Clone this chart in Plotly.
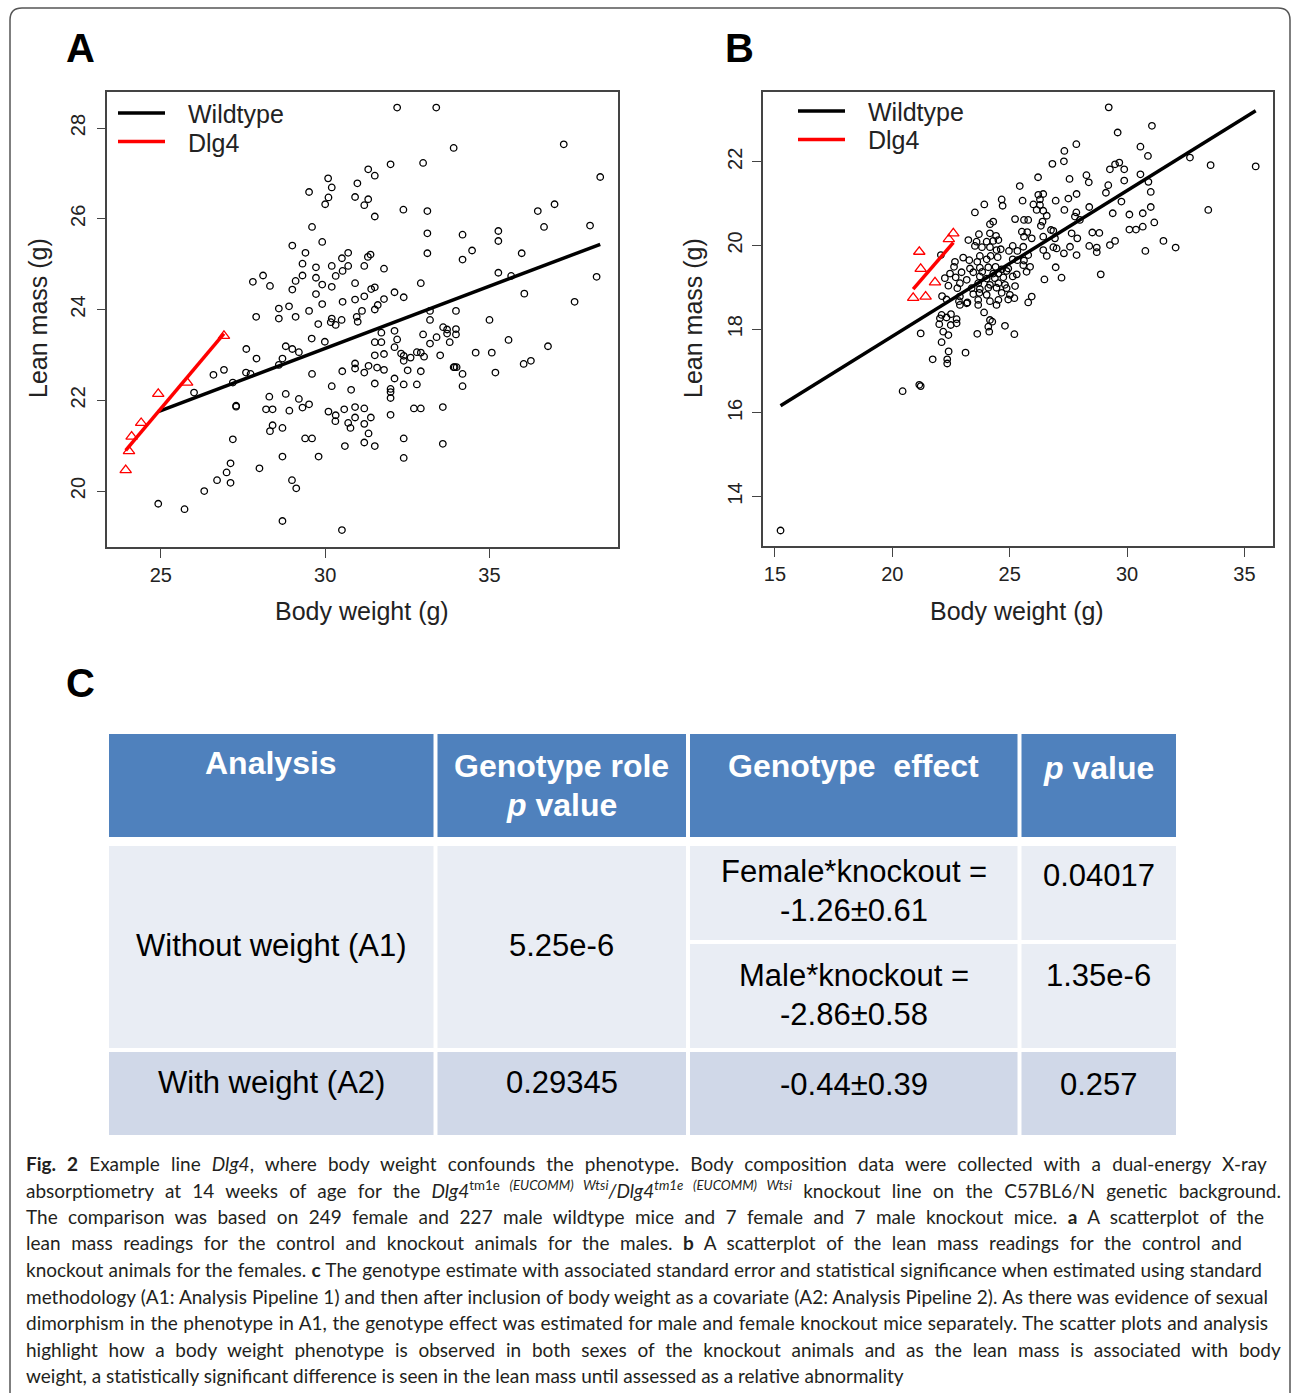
import json
import plotly.graph_objects as go

W, H = 1292, 1393

# ---------------- Panel A: males, lean mass vs body weight ----------------
a_wt_x = [30.09, 30.20, 29.51, 30.10, 30.00, 30.98, 30.91, 29.60, 29.00, 29.91, 29.40, 30.70, 30.51, 29.31,
          29.72, 30.20, 30.70, 30.53, 30.32, 27.80, 28.11, 28.32, 29.00, 29.10, 29.31, 29.72, 29.91, 30.20,
          30.91, 29.72, 29.91, 30.53, 30.91, 28.59, 28.90, 27.90, 28.59, 29.10, 29.51, 30.20, 30.50, 30.96,
          32.19, 33.38, 33.91, 37.26, 31.99, 32.98, 31.31, 31.51, 31.31, 31.19, 31.51, 32.38, 33.11, 36.47,
          36.98, 38.37, 33.11, 34.18, 35.27, 35.27, 36.66, 38.06, 33.11, 34.18, 34.47, 35.98, 31.38, 31.30,
          31.19, 31.79, 35.27, 35.66, 32.91, 38.26, 36.06, 37.59, 31.51, 31.40, 31.19, 31.79, 32.11, 32.39,
          31.60, 31.51, 31.12, 33.19, 33.98, 35.00,
          29.79, 30.17, 30.32, 30.99, 29.59, 29.99, 28.80, 29.00, 29.20, 27.60, 27.91, 28.70, 28.59, 26.92,
          26.60, 27.59, 27.73, 27.19, 26.01, 29.60, 30.52, 30.91, 30.91, 30.20, 30.79, 28.30, 28.80, 29.20,
          29.51, 29.31, 28.20, 28.40, 28.91, 27.29, 27.29, 30.10, 30.32, 30.31, 30.58, 30.91, 30.91, 30.70,
          30.77, 28.40, 28.32, 28.70, 27.19, 29.39, 29.60, 30.60, 28.70, 29.80, 27.12, 27.00, 26.71, 27.12,
          28.00, 28.99, 29.12, 26.32, 24.92, 25.72, 28.70, 30.51,
          33.19, 33.59, 33.71, 33.98, 33.71, 33.98, 32.98, 33.39, 33.19, 33.79, 35.58, 36.78, 31.71, 32.11,
          32.19, 31.51, 31.71, 32.11, 32.31, 32.39, 32.39, 32.60, 32.79, 32.91, 33.01, 33.50, 34.58, 35.07,
          31.51, 31.79, 31.32, 31.19, 31.58, 31.79, 32.51, 32.91, 33.91, 33.94, 34.00, 34.18, 35.18, 36.04,
          36.26, 32.11, 31.51, 32.39, 32.79, 34.18, 31.99, 31.99, 31.99, 31.19, 32.70, 32.91, 33.58, 31.39,
          31.19, 31.99, 31.32, 31.19, 31.51, 32.39, 33.58, 32.39]
a_wt_y = [26.89, 26.69, 26.59, 26.47, 26.32, 26.78, 26.48, 25.82, 25.41, 25.49, 25.25, 25.25, 25.13, 25.01,
          24.93, 24.96, 24.96, 24.85, 24.74, 24.61, 24.75, 24.52, 24.44, 24.63, 24.75, 24.70, 24.55, 24.50,
          24.58, 24.34, 24.12, 24.17, 24.22, 24.02, 24.07, 23.84, 23.80, 23.84, 23.97, 23.80, 23.77, 23.84,
          28.45, 28.45, 27.56, 27.64, 27.20, 27.23, 27.09, 26.95, 26.43, 26.30, 26.05, 26.20, 26.17, 26.17,
          26.32, 26.92, 25.68, 25.65, 25.73, 25.51, 25.82, 25.85, 25.24, 25.10, 25.30, 25.24, 25.21, 25.16,
          24.96, 24.90, 24.81, 24.74, 24.58, 24.72, 24.35, 24.17, 24.49, 24.45, 24.29, 24.23, 24.38, 24.27,
          24.10, 24.00, 23.97, 23.97, 23.97, 23.77,
          23.68, 23.72, 23.66, 23.73, 23.36, 23.29, 23.19, 23.13, 23.06, 23.13, 22.92, 22.92, 22.78, 22.67,
          22.56, 22.61, 22.58, 22.39, 22.17, 22.58, 22.64, 22.81, 22.70, 22.31, 22.23, 22.08, 22.14, 22.03,
          21.91, 21.84, 21.80, 21.80, 21.77, 21.86, 21.88, 21.75, 21.67, 21.54, 21.80, 21.85, 21.62, 21.50,
          21.39, 21.45, 21.32, 21.39, 21.14, 21.16, 21.16, 20.99, 20.76, 20.76, 20.61, 20.41, 20.24, 20.18,
          20.50, 20.24, 20.06, 20.00, 19.72, 19.60, 19.34, 19.14,
          23.77, 23.61, 23.56, 23.57, 23.47, 23.45, 23.45, 23.39, 23.25, 23.28, 23.33, 23.19, 23.49, 23.53,
          23.34, 23.28, 23.28, 23.17, 23.03, 22.98, 22.87, 22.94, 23.06, 23.05, 22.96, 22.99, 23.05, 23.05,
          22.99, 23.02, 22.76, 22.61, 22.72, 22.67, 22.66, 22.64, 22.73, 22.73, 22.73, 22.58, 22.61, 22.80,
          22.87, 22.48, 22.37, 22.35, 22.35, 22.31, 22.25, 22.18, 22.05, 21.82, 21.82, 21.82, 21.85, 21.62,
          21.48, 21.68, 21.27, 21.07, 20.99, 21.16, 21.04, 20.73]
a_ko_x = [23.93, 24.03, 24.11, 24.40, 24.92, 25.80, 26.92]
a_ko_y = [20.46, 20.88, 21.20, 21.50, 22.14, 22.39, 23.42]
a_fit_intercept = [14.92, 0.33]      # [Wildtype, Dlg4]
a_fit_slope = [0.2741, 0.8595]

# ---------------- Panel B: females ----------------
b_wt_x = [26.21, 25.43, 26.43, 26.22, 24.66, 25.55, 26.29, 26.96, 23.92, 24.70, 26.01, 26.29, 23.52, 26.15,
          26.43, 26.58, 25.23, 25.61, 25.79, 26.40, 24.30, 24.16, 26.33, 26.76, 23.69, 24.16, 24.42, 25.52,
          25.75, 26.86, 25.61, 25.94, 26.43, 26.93, 23.24, 23.59, 24.02, 24.30, 24.52, 23.52, 23.82, 24.16,
          25.13, 25.58, 26.86, 24.44, 24.62, 24.97, 25.33, 26.43, 27.00, 23.73, 23.02, 24.19, 24.49, 25.79,
          26.58, 22.07, 22.67, 23.28, 23.62, 24.02, 25.13, 25.33, 25.61, 22.63, 23.31, 23.73, 24.09, 24.40,
          24.66, 24.94, 25.58, 25.87, 26.96, 22.46, 22.95, 23.45, 23.83, 24.30, 24.52, 24.87, 25.30, 25.72,
          22.24, 22.70, 23.17, 23.73, 24.02, 24.37, 24.73, 25.13, 26.48, 22.39, 22.88, 23.66, 24.16, 24.52,
          24.80, 22.77, 23.38, 23.73, 24.09, 24.44, 24.87, 25.23, 22.12, 22.88, 23.45, 23.71, 24.02, 24.66,
          25.01, 25.20, 25.94, 22.31, 22.84, 23.20, 23.66, 24.16, 24.52, 24.94, 25.79, 22.88, 23.17, 23.66,
          24.44, 22.10, 22.50, 23.91, 22.03, 22.31, 22.74, 24.16, 24.26, 22.00, 22.49, 22.74, 24.09, 24.80,
          21.21, 22.17, 22.39, 23.62, 24.13, 25.20, 22.10,
          29.22, 31.06, 29.60, 27.84, 27.33, 26.82, 27.31, 30.57, 30.89, 32.68, 33.56, 35.48, 29.27, 29.49,
          29.67, 29.88, 30.57, 28.27, 28.37, 27.55, 27.85, 27.50, 29.10, 29.20, 29.76, 31.01, 30.91, 29.88,
          28.39, 27.84, 27.33, 27.78, 27.99, 29.39, 30.10, 30.67, 31.01, 33.46, 31.16, 30.10, 30.38, 30.67,
          28.52, 28.82, 31.55, 32.07, 30.78, 29.49, 29.27, 28.39, 28.71, 28.71, 27.85, 27.57, 28.88, 27.21,
          27.64, 27.88, 27.31,
          22.40, 22.34, 22.34, 21.72, 23.12, 21.21, 21.15, 20.44, 15.24]
b_wt_y = [21.63, 21.42, 21.23, 21.21, 21.10, 21.07, 21.10, 21.07, 20.98, 20.95, 20.98, 20.97, 20.79, 20.85,
          20.83, 20.71, 20.63, 20.61, 20.61, 20.57, 20.57, 20.51, 20.47, 20.37, 20.27, 20.29, 20.23, 20.33,
          20.32, 20.35, 20.21, 20.17, 20.21, 20.17, 20.13, 20.09, 20.09, 20.11, 20.13, 19.99, 19.96, 19.96,
          19.99, 19.97, 19.96, 19.89, 19.91, 19.87, 19.87, 19.89, 19.93, 19.75, 19.71, 19.75, 19.72, 19.77,
          19.75, 19.77, 19.61, 19.65, 19.61, 19.67, 19.67, 19.65, 19.64, 19.49, 19.45, 19.47, 19.48, 19.49,
          19.43, 19.45, 19.53, 19.49, 19.48, 19.33, 19.36, 19.36, 19.37, 19.33, 19.33, 19.39, 19.31, 19.37,
          19.22, 19.24, 19.18, 19.26, 19.21, 19.22, 19.24, 19.26, 19.19, 19.04, 19.10, 19.10, 19.06, 19.10,
          19.06, 18.98, 18.98, 18.96, 18.99, 18.99, 18.98, 19.03, 18.79, 18.78, 18.84, 18.87, 18.82, 18.87,
          18.82, 18.74, 18.78, 18.71, 18.67, 18.64, 18.70, 18.67, 18.70, 18.71, 18.64, 18.58, 18.62, 18.58,
          18.58, 18.34, 18.36, 18.40, 18.26, 18.28, 18.24, 18.22, 18.18, 18.12, 18.10, 18.14, 18.06, 18.08,
          17.90, 17.94, 17.86, 17.89, 17.94, 17.88, 17.69,
          23.30, 22.86, 22.70, 22.42, 22.26, 21.95, 22.01, 22.36, 22.14, 22.10, 21.92, 21.89, 21.82, 21.94,
          21.98, 21.82, 21.70, 21.68, 21.51, 21.59, 21.23, 21.12, 21.26, 21.44, 21.05, 21.28, 21.52, 21.55,
          20.92, 20.79, 20.85, 20.69, 20.61, 20.77, 20.74, 20.77, 20.92, 20.85, 20.55, 20.38, 20.38, 20.45,
          20.31, 20.30, 20.11, 19.95, 19.87, 20.11, 20.01, 19.99, 19.95, 19.84, 19.77, 19.97, 19.31, 19.23,
          20.29, 20.17, 19.81,
          17.47, 17.28, 17.18, 17.28, 17.44, 16.64, 16.67, 16.52, 13.19]
b_ko_x = [22.60, 22.41, 21.15, 21.21, 21.82, 20.89, 21.42]
b_ko_y = [20.29, 20.15, 19.85, 19.44, 19.12, 18.75, 18.78]
b_fit_intercept = [10.87, 5.40]      # [Wildtype, Dlg4]
b_fit_slope = [0.348, 0.649]

a_xticks = [25, 30, 35]
a_yticks = [20, 22, 24, 26, 28]
b_xticks = [15, 20, 25, 30, 35]
b_yticks = [14, 16, 18, 20, 22]
group_names = ["Wildtype", "Dlg4"]
group_colors = ["black", "#ff0000"]

# ---------------- Table C ----------------
tbl_header = ["Analysis", "Genotype role", "Genotype\u00a0 effect", "<i>p</i> value"]
tbl_header2 = ["", "<i>p</i> value", "", ""]
tbl_analysis = ["Without weight (A1)", "With weight (A2)"]
tbl_role_p = ["5.25e-6", "0.29345"]
tbl_effect = [["Female*knockout =", "-1.26±0.61"], ["Male*knockout =", "-2.86±0.58"], ["-0.44±0.39"]]
tbl_effect_p = ["0.04017", "1.35e-6", "0.257"]

caption_lines = [
    "<b>Fig. 2</b> Example line <i>Dlg4</i>, where body weight confounds the phenotype. Body composition data were collected with a dual-energy X-ray",
    "absorptiometry at 14 weeks of age for the <i>Dlg4</i><sup>tm1e <i>(EUCOMM) Wtsi</i></sup><i>/Dlg4<sup>tm1e (EUCOMM) Wtsi</sup></i> knockout line on the C57BL6/N genetic background.",
    "The comparison was based on 249 female and 227 male wildtype mice and 7 female and 7 male knockout mice. <b>a</b> A scatterplot of the",
    "lean mass readings for the control and knockout animals for the males. <b>b</b> A scatterplot of the lean mass readings for the control and",
    "knockout animals for the females. <b>c</b> The genotype estimate with associated standard error and statistical significance when estimated using standard",
    "methodology (A1: Analysis Pipeline 1) and then after inclusion of body weight as a covariate (A2: Analysis Pipeline 2). As there was evidence of sexual",
    "dimorphism in the phenotype in A1, the genotype effect was estimated for male and female knockout mice separately. The scatter plots and analysis",
    "highlight how a body weight phenotype is observed in both sexes of the knockout animals and as the lean mass is associated with body",
    "weight, a statistically significant difference is seen in the lean mass until assessed as a relative abnormality",
]
# right edge (px) that each justified caption line reaches in the printed figure (last line is ragged)
caption_right = [1265, 1279, 1262, 1240, 1260, 1266, 1266, 1279, None]

FONT = "Liberation Sans, Arial, Helvetica, sans-serif"


def fx(p):
    return p / W


def fy(p):
    return 1 - p / H


fig = go.Figure()


def add_panel(wt_x, wt_y, ko_x, ko_y, icpt, slope, xa, ya):
    fig.add_trace(go.Scatter(x=wt_x, y=wt_y, mode="markers", xaxis=xa, yaxis=ya, showlegend=False,
                             marker=dict(symbol="circle-open", size=6.5, color="black",
                                         line=dict(width=1.3, color="black"))))
    fig.add_trace(go.Scatter(x=ko_x, y=ko_y, mode="markers", xaxis=xa, yaxis=ya, showlegend=False,
                             marker=dict(symbol="triangle-up-open", size=10, color="#ff0000",
                                         line=dict(width=1.3, color="#ff0000"))))
    for k, gx in enumerate([wt_x, ko_x]):
        x0, x1 = min(gx), max(gx)
        fig.add_trace(go.Scatter(x=[x0, x1], y=[icpt[k] + slope[k] * x0, icpt[k] + slope[k] * x1],
                                 mode="lines", xaxis=xa, yaxis=ya, name=group_names[k], showlegend=False,
                                 line=dict(color=group_colors[k], width=3.5)))


add_panel(a_wt_x, a_wt_y, a_ko_x, a_ko_y, a_fit_intercept, a_fit_slope, "x", "y")
add_panel(b_wt_x, b_wt_y, b_ko_x, b_ko_y, b_fit_intercept, b_fit_slope, "x2", "y2")


def axis_style(rng, ticks, dom, anchor, angle=0):
    return dict(range=rng, tickvals=ticks, domain=dom, anchor=anchor, autorange=False,
                showline=True, mirror=True, linecolor="#444", linewidth=1.6,
                ticks="outside", ticklen=9, tickwidth=1.4, tickcolor="#444",
                showgrid=False, zeroline=False, tickangle=angle,
                tickfont=dict(family=FONT, size=20, color="#222"), automargin=False)


ya = axis_style([18.76, 28.80], a_yticks, [fy(547.3), fy(91.7)], "x", -90)
ya["ticklabelstandoff"] = 4
yb = axis_style([12.82, 23.66], b_yticks, [fy(546), fy(92.3)], "x2", -90)
yb["ticklabelstandoff"] = 2

fig.update_layout(
    width=W, height=H, margin=dict(l=0, r=0, t=0, b=0),
    paper_bgcolor="white", plot_bgcolor="white", showlegend=False,
    xaxis=axis_style([23.37, 38.92], a_xticks, [fx(107.3), fx(618.3)], "y"),
    yaxis=ya,
    xaxis2=axis_style([14.48, 36.23], b_xticks, [fx(762.7), fx(1273.3)], "y2"),
    yaxis2=yb,
)

ann = []
shapes = []


def text(t, x, y, size, color="#111", bold=False, xanchor="center", angle=0, family=FONT, align="center"):
    if bold:
        t = "<b>" + t + "</b>"
    ann.append(dict(text=t, x=fx(x), y=fy(y), xref="paper", yref="paper", showarrow=False,
                    xanchor=xanchor, yanchor="middle", textangle=angle, align=align,
                    font=dict(family=family, size=size, color=color)))
    return len(ann) - 1


# panel letters
text("A", 80, 48, 40, "#000", True)
text("B", 740, 48, 40, "#000", True)
text("C", 80, 683, 40, "#000", True)
# axis titles
text("Lean mass (g)", 38, 318, 25, "#222", angle=-90)
text("Lean mass (g)", 693, 318, 25, "#222", angle=-90)
text("Body weight (g)", 362, 611, 25, "#222")
text("Body weight (g)", 1017, 611, 25, "#222")

# legends (key lines + labels) for both panels
for (lx, ly0) in [(118, 113), (798, 111)]:
    for k in range(2):
        yy = ly0 + k * 28.5
        shapes.append(dict(type="line", xref="paper", yref="paper", x0=fx(lx), x1=fx(lx + 47),
                           y0=fy(yy), y1=fy(yy), line=dict(color=group_colors[k], width=3.5)))
        text(group_names[k], lx + 68, yy + 1, 25, "#222", xanchor="left")

# table cells
cols = [(109, 433.5), (437.5, 686), (690, 1017.5), (1021.5, 1176)]
HEAD, ROW1, ROW2 = "#4f81bd", "#e9edf4", "#d0d8e8"


def rect(x0, x1, y0, y1, color):
    shapes.append(dict(type="rect", xref="paper", yref="paper", x0=fx(x0), x1=fx(x1), y0=fy(y1), y1=fy(y0),
                       fillcolor=color, line=dict(width=0), layer="below"))


for c0, c1 in cols:
    rect(c0, c1, 734, 837, HEAD)
for i, (c0, c1) in enumerate(cols):
    if i < 2:
        rect(c0, c1, 846, 1048, ROW1)
    else:
        rect(c0, c1, 846, 940, ROW1)
        rect(c0, c1, 944, 1048, ROW1)
    rect(c0, c1, 1052, 1135, ROW2)

cx = [(a + b) / 2 for a, b in cols]
TS = 31
text(tbl_header[0], cx[0], 763, TS + 1, "white", True)
text(tbl_header[1], cx[1], 766, TS + 1, "white", True)
text(tbl_header2[1], cx[1], 805, TS + 1, "white", True)
text(tbl_header[2], cx[2], 766, TS + 1, "white", True)
text(tbl_header[3], cx[3], 768, TS + 1, "white", True)

text(tbl_analysis[0], cx[0], 945, TS, "#000")
text(tbl_role_p[0], cx[1], 945, TS, "#000")
text(tbl_effect[0][0], cx[2], 871, TS, "#000")
text(tbl_effect[0][1], cx[2], 910, TS, "#000")
text(tbl_effect_p[0], cx[3], 875, TS, "#000")
text(tbl_effect[1][0], cx[2], 975, TS, "#000")
text(tbl_effect[1][1], cx[2], 1014, TS, "#000")
text(tbl_effect_p[1], cx[3], 975, TS, "#000")
text(tbl_analysis[1], cx[0], 1082, TS, "#000")
text(tbl_role_p[1], cx[1], 1082, TS, "#000")
text(tbl_effect[2][0], cx[2], 1084, TS, "#000")
text(tbl_effect_p[2], cx[3], 1084, TS, "#000")

# caption
CAP_LEFT = 24
justify = {}
for i, line in enumerate(caption_lines):
    idx = text(line, CAP_LEFT, 1163 + i * 26.6, 19, "#231f20", xanchor="left",
               family="Lato, Open Sans, sans-serif", align="left")
    if caption_right[i]:
        justify[idx] = caption_right[i] - CAP_LEFT

# outer rounded frame
frame = (f"M {fx(10)} {fy(1420)} L {fx(10)} {fy(20)} Q {fx(10)} {fy(8)} {fx(22)} {fy(8)} "
         f"L {fx(1278)} {fy(8)} Q {fx(1290)} {fy(8)} {fx(1290)} {fy(20)} L {fx(1290)} {fy(1420)}")
shapes.append(dict(type="path", path=frame, xref="paper", yref="paper", line=dict(color="#555", width=1.5)))

fig.update_layout(annotations=ann, shapes=shapes)

# justify the caption lines by widening the word spacing (like the printed, justified caption)
js = """
document.body.style.margin='0px';document.body.style.overflow='hidden';
var gd=document.getElementById('{plot_id}');
var tgt=%s;
gd.querySelectorAll('g.annotation').forEach(function(g){
  var i=g.getAttribute('data-index');
  if(tgt.hasOwnProperty(i)){
    var t=g.querySelector('text.annotation-text');
    if(!t){return;}
    var w0=t.getBBox().width;
    var n=(t.textContent.match(/[ \\u00a0]/g)||[]).length;
    if(n>0 && tgt[i]>w0){t.style.wordSpacing=((tgt[i]-w0)/n)+'px';}
    var w1=t.getBBox().width;
    if(n>0 && w1>tgt[i]+1){t.style.wordSpacing=((tgt[i]-w0)/n - (w1-tgt[i])/n)+'px';}
  }
});
""" % json.dumps({str(k): v for k, v in justify.items()})

fig.write_html("out.html", config={"displayModeBar": False}, post_script=js)
